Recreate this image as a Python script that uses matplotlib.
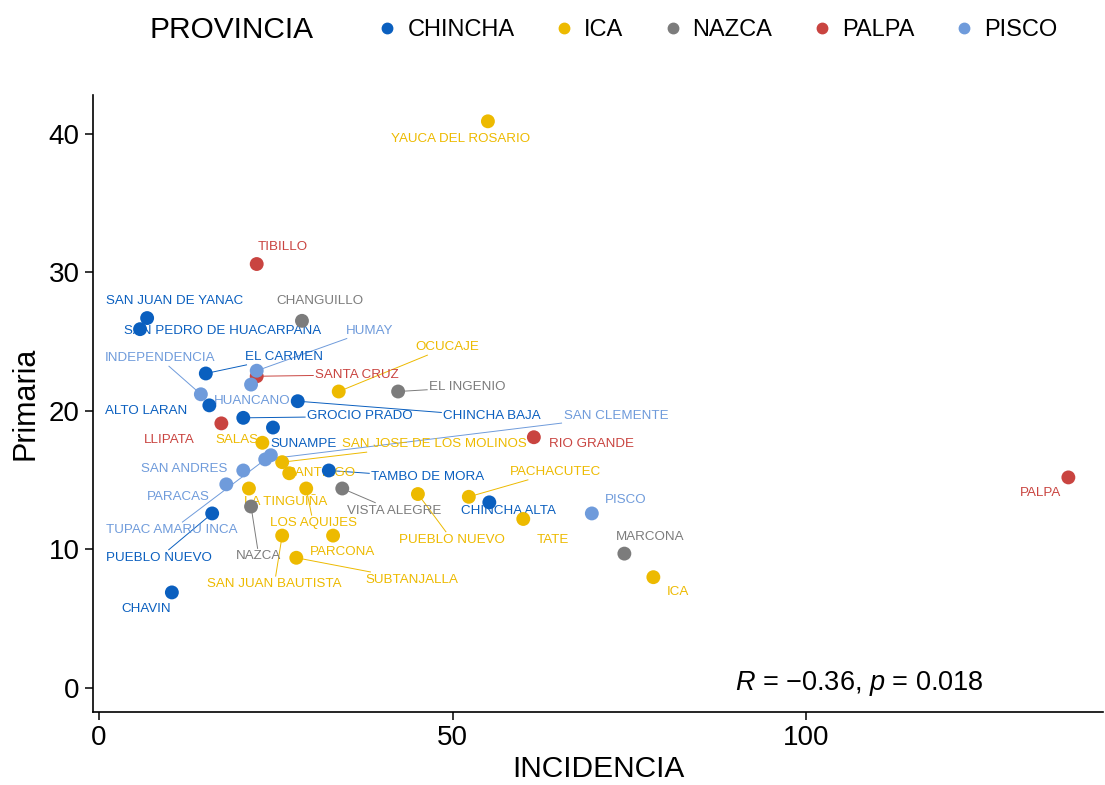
import numpy as np
import matplotlib.pyplot as plt
from matplotlib.lines import Line2D

plt.rcParams['font.family'] = ['Liberation Sans', 'DejaVu Sans']
plt.rcParams['mathtext.fontset'] = 'custom'
plt.rcParams['mathtext.rm'] = 'Liberation Sans'
plt.rcParams['mathtext.it'] = 'Liberation Sans:italic'

# datos por provincia
provincias = ['CHINCHA', 'ICA', 'NAZCA', 'PALPA', 'PISCO']
colores = ['#0A5FBF', '#EDBA00', '#7C7C7C', '#C94440', '#6F9BDB']

chincha_nombres = ['SAN JUAN DE YANAC', 'SAN PEDRO DE HUACARPANA', 'EL CARMEN', 'ALTO LARAN',
                   'CHINCHA BAJA', 'GROCIO PRADO', 'SUNAMPE', 'TAMBO DE MORA',
                   'PUEBLO NUEVO', 'CHAVIN', 'CHINCHA ALTA']
chincha_incidencia = [6.8, 5.8, 15.1, 15.6, 28.1, 20.4, 24.6, 32.5, 16.0, 10.3, 55.2]
chincha_primaria = [26.7, 25.9, 22.7, 20.4, 20.7, 19.5, 18.8, 15.7, 12.6, 6.9, 13.4]

ica_nombres = ['YAUCA DEL ROSARIO', 'OCUCAJE', 'SALAS', 'SAN JOSE DE LOS MOLINOS', 'SANTIAGO',
               'LA TINGUIÑA', 'LOS AQUIJES', 'SAN JUAN BAUTISTA', 'PARCONA', 'SUBTANJALLA',
               'PUEBLO NUEVO', 'PACHACUTEC', 'TATE', 'ICA']
ica_incidencia = [55.0, 33.9, 23.1, 25.9, 26.9, 21.2, 29.3, 25.9, 33.1, 27.9, 45.1, 52.3, 60.0, 78.4]
ica_primaria = [40.9, 21.4, 17.7, 16.3, 15.5, 14.4, 14.4, 11.0, 11.0, 9.4, 14.0, 13.8, 12.2, 8.0]

nazca_nombres = ['NAZCA', 'CHANGUILLO', 'EL INGENIO', 'MARCONA', 'VISTA ALEGRE']
nazca_incidencia = [21.5, 28.7, 42.3, 74.3, 34.4]
nazca_primaria = [13.1, 26.5, 21.4, 9.7, 14.4]

palpa_nombres = ['PALPA', 'LLIPATA', 'RIO GRANDE', 'SANTA CRUZ', 'TIBILLO']
palpa_incidencia = [137.1, 17.3, 61.5, 22.3, 22.3]
palpa_primaria = [15.2, 19.1, 18.1, 22.5, 30.6]

pisco_nombres = ['PISCO', 'HUANCANO', 'HUMAY', 'INDEPENDENCIA', 'PARACAS', 'SAN ANDRES',
                 'SAN CLEMENTE', 'TUPAC AMARU INCA']
pisco_incidencia = [69.7, 21.5, 22.3, 14.4, 18.0, 20.4, 23.5, 24.3]
pisco_primaria = [12.6, 21.9, 22.9, 21.2, 14.7, 15.7, 16.5, 16.8]

# posiciones de las etiquetas (como ggrepel)
chincha_lab_x = [10.7, 17.4, 26.2, 6.6, 55.6, 36.9, 29.0, 46.5, 8.5, 6.6, 57.9]
chincha_lab_y = [27.9, 25.8, 23.9, 20.0, 19.6, 19.6, 17.6, 15.2, 9.4, 5.7, 12.8]
ica_lab_x = [51.1, 49.2, 19.5, 47.4, 31.4, 26.4, 30.3, 24.8, 34.5, 44.3, 49.9, 64.6, 64.2, 81.9]
ica_lab_y = [39.6, 24.6, 17.9, 17.6, 15.5, 13.4, 11.9, 7.5, 9.8, 7.8, 10.7, 15.6, 10.7, 6.9]
nazca_lab_x = [22.6, 31.3, 52.1, 77.9, 41.7]
nazca_lab_y = [9.5, 27.9, 21.7, 10.9, 12.8]
palpa_lab_x = [133.2, 9.9, 69.6, 36.5, 26.0]
palpa_lab_y = [14.1, 17.9, 17.6, 22.6, 31.8]
pisco_lab_x = [74.5, 21.6, 38.2, 8.6, 11.2, 12.0, 73.1, 10.3]
pisco_lab_y = [13.6, 20.7, 25.8, 23.8, 13.8, 15.8, 19.6, 11.4]

grupos = [
    (chincha_nombres, chincha_incidencia, chincha_primaria, chincha_lab_x, chincha_lab_y),
    (ica_nombres, ica_incidencia, ica_primaria, ica_lab_x, ica_lab_y),
    (nazca_nombres, nazca_incidencia, nazca_primaria, nazca_lab_x, nazca_lab_y),
    (palpa_nombres, palpa_incidencia, palpa_primaria, palpa_lab_x, palpa_lab_y),
    (pisco_nombres, pisco_incidencia, pisco_primaria, pisco_lab_x, pisco_lab_y),
]

# etiquetas que llevan segmento
con_segmento = {
    ('CHINCHA', 'EL CARMEN'), ('CHINCHA', 'CHINCHA BAJA'), ('CHINCHA', 'GROCIO PRADO'),
    ('CHINCHA', 'TAMBO DE MORA'), ('CHINCHA', 'PUEBLO NUEVO'),
    ('ICA', 'OCUCAJE'), ('ICA', 'SAN JOSE DE LOS MOLINOS'), ('ICA', 'LOS AQUIJES'),
    ('ICA', 'SAN JUAN BAUTISTA'), ('ICA', 'SUBTANJALLA'), ('ICA', 'PUEBLO NUEVO'),
    ('ICA', 'PACHACUTEC'),
    ('NAZCA', 'NAZCA'), ('NAZCA', 'EL INGENIO'), ('NAZCA', 'VISTA ALEGRE'),
    ('PALPA', 'SANTA CRUZ'),
    ('PISCO', 'HUMAY'), ('PISCO', 'INDEPENDENCIA'), ('PISCO', 'SAN CLEMENTE'),
    ('PISCO', 'TUPAC AMARU INCA'),
}

fig = plt.figure(figsize=(11.05, 7.85), dpi=100)
ax = fig.add_axes([0.0842, 0.093, 0.914, 0.786])
ax.set_xlim(-0.85, 142)
ax.set_ylim(-1.73, 42.8)

textos = []
for prov, col, (nom, xs, ys, lx, ly) in zip(provincias, colores, grupos):
    ax.scatter(xs, ys, s=100, color=col, edgecolors='none', zorder=3)
    for i in range(len(nom)):
        t = ax.text(lx[i], ly[i], nom[i], color=col, fontsize=9.6, ha='center', va='center', zorder=2)
        if (prov, nom[i]) in con_segmento:
            textos.append((t, xs[i], ys[i], col))

# segmentos: del punto hacia el centro de la etiqueta, cortados en su caja
fig.canvas.draw()
r = fig.canvas.get_renderer()
inv = ax.transData.inverted()
for t, px, py, col in textos:
    bb = t.get_window_extent(r).padded(2)
    p0 = ax.transData.transform((px, py))
    c = np.array([(bb.x0 + bb.x1) / 2, (bb.y0 + bb.y1) / 2])
    d = c - p0
    fr = []
    if d[0] != 0:
        fr.append(1 - (bb.width / 2) / abs(d[0]))
    if d[1] != 0:
        fr.append(1 - (bb.height / 2) / abs(d[1]))
    f = max(fr)
    if f <= 0:
        continue
    p1 = p0 + d * f
    a, b = inv.transform([p0, p1])
    ax.plot([a[0], b[0]], [a[1], b[1]], color=col, lw=0.7, zorder=1)

ax.text(90, 0.3, r'$\it{R}$ = $-$0.36, $\it{p}$ = 0.018', fontsize=19.5, va='center', ha='left')

ax.set_xticks([0, 50, 100])
ax.set_yticks([0, 10, 20, 30, 40])
ax.tick_params(labelsize=20, length=5.5, width=1.1, colors='black', pad=4)
for s in ['top', 'right']:
    ax.spines[s].set_visible(False)
for s in ['left', 'bottom']:
    ax.spines[s].set_linewidth(1.2)
ax.set_xlabel('INCIDENCIA', fontsize=21.5, labelpad=3)
ax.set_ylabel('Primaria', fontsize=22, labelpad=6)

handles = [Line2D([], [], marker='o', ls='', color=c, markersize=7.5) for c in colores]
fig.text(150 / 1105, 0.962, 'PROVINCIA', fontsize=21.5, va='center', ha='left')
fig.legend(handles, provincias, ncol=5, loc='center', bbox_to_anchor=(0.649, 0.962),
           frameon=False, fontsize=17, handlelength=0.85, handletextpad=0.42, columnspacing=1.67)

fig.savefig('out.png', dpi=100)
